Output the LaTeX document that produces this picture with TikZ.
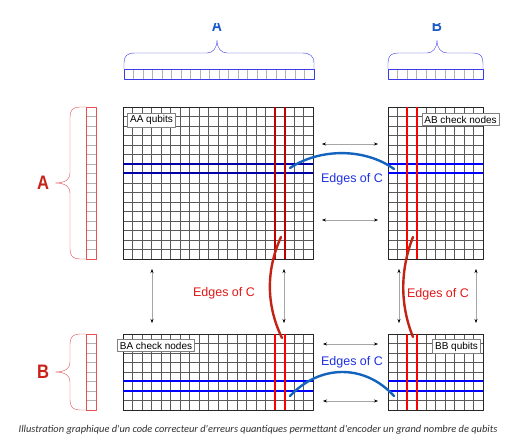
\documentclass[tikz,border=0pt]{standalone}
\usepackage{fontspec}
\setmainfont{Liberation Sans}
\newfontfamily\capfont{Carlito}
\usepackage{xcolor}
\usepackage{tikz}
\usetikzlibrary{arrows.meta}

\definecolor{edgeblue}{RGB}{20,100,190}
\definecolor{edgered}{RGB}{195,35,20}
\definecolor{txtblue}{RGB}{30,50,225}
\definecolor{txtred}{RGB}{225,25,25}
\definecolor{lblblue}{RGB}{25,90,200}
\definecolor{lblred}{RGB}{200,35,25}
\definecolor{braceblue}{RGB}{60,60,230}
\definecolor{bracered}{RGB}{230,80,85}
\definecolor{capgray}{RGB}{50,50,50}

\tikzset{
  gridline/.style={gray!70!black,line width=0.5pt},
  gridbox/.style={black!85,line width=0.9pt},
  barline/.style={gray!60,line width=0.5pt},
  rowline/.style={line width=2pt},
  edgeline/.style={line width=2.4pt,line cap=round},
  tag/.style={draw=gray,fill=white,font=\fontsize{10}{12}\selectfont,inner sep=2.5pt},
  twoway/.style={gray!70,line width=0.5pt,
    {Stealth[color=black,length=4pt,width=3pt]}-{Stealth[color=black,length=4pt,width=3pt]}},
  edgelbl/.style={font=\fontsize{12.5}{14}\selectfont},
  bigletter/.style={anchor=base,inner sep=0pt,font=\bfseries\fontsize{19.5}{20}\selectfont}
}

\newcommand{\cellgrid}[4]{%
  \foreach \k in {1,...,#3}{\draw[gridline] ({#1+9.5*\k},#2) -- ++(0,{9.5*#4});}
  \foreach \k in {1,...,#4}{\draw[gridline] (#1,{#2+9.5*\k}) -- ++({9.5*#3},0);}
  \draw[gridbox] (#1,#2) rectangle ++({9.5*#3},{9.5*#4});
}
\newcommand{\topbar}[2]{%
  \foreach \k in {1,...,#2}{\draw[barline] ({#1+9.5*\k},69) -- ({#1+9.5*\k},79);}
  \draw[braceblue] (#1,69) rectangle ({#1+9.5*#2},79);
}
\newcommand{\sidebar}[2]{%
  \foreach \k in {1,...,#2}{\draw[barline] (86,{#1+9.5*\k}) -- (96,{#1+9.5*\k});}
  \draw[bracered] (86,#1) rectangle (96,{#1+9.5*#2});
}

\begin{document}
\begin{tikzpicture}[x=1pt,y=-1pt,>=Stealth,line join=round]
  \useasboundingbox (0,0) rectangle (525,446);
  \fill[white] (0,0) rectangle (525,446);

  \cellgrid{123}{107}{20}{16}
  \cellgrid{388}{107}{10}{16}
  \cellgrid{123}{334}{20}{8}
  \cellgrid{388}{334}{10}{8}

  \topbar{124}{20}
  \topbar{388}{10}
  \sidebar{107}{16}
  \sidebar{334}{8}

  \draw[braceblue] (124,69) -- (124,63) .. controls (124,56) and (127,53) .. (135,53) -- (207,53)
    .. controls (213,53) and (217,48) .. (217,40) .. controls (217,48) and (221,53) .. (227,53)
    -- (302,53) .. controls (310,53) and (314,56) .. (314,63) -- (314,69);
  \draw[braceblue] (388,69) -- (388,63) .. controls (388,56) and (391,53) .. (398,53) -- (427,53)
    .. controls (433,53) and (437,48) .. (437,40) .. controls (437,48) and (441,53) .. (447,53)
    -- (473,53) .. controls (480,53) and (483,56) .. (483,63) -- (483,69);
  \draw[bracered] (86,107) -- (80,107) .. controls (73,107) and (70,110) .. (70,117) -- (70,173)
    .. controls (70,179) and (66,183) .. (55,183) .. controls (66,183) and (70,187) .. (70,193)
    -- (70,249) .. controls (70,256) and (73,259) .. (80,259) -- (86,259);
  \draw[bracered] (86,334) -- (80,334) .. controls (73,334) and (70,337) .. (70,344) -- (70,362)
    .. controls (70,368) and (66,372) .. (55,372) .. controls (66,372) and (70,376) .. (70,382)
    -- (70,400) .. controls (70,407) and (73,410) .. (80,410) -- (86,410);

  \begin{scope}
    \clip (150,24) rectangle (500,45);
    \node[bigletter,text=lblblue,font=\bfseries\fontsize{16.5}{17}\selectfont] (TA) at (217,31.5) {\scalebox{0.85}[1]{A}};
    \node[bigletter,text=lblblue,font=\bfseries\fontsize{16.5}{17}\selectfont] (TB) at (437,31.5) {\scalebox{0.85}[1]{B}};
  \end{scope}
  \node[bigletter,text=lblred] (LA) at (43,190) {\scalebox{0.85}[1]{A}};
  \node[bigletter,text=lblred] (LB) at (43,379) {\scalebox{0.85}[1]{B}};

  \foreach \y in {164,173.5}{
    \draw[rowline,blue!65!black] (123,\y) -- (313,\y);
    \draw[rowline,blue] (388,\y) -- (483,\y);
  }
  \foreach \y in {381.5,391}{
    \draw[rowline,blue] (123,\y) -- (313,\y);
    \draw[rowline,blue] (388,\y) -- (483,\y);
  }
  \foreach \x in {275,284.5}{
    \draw[rowline,red!75!black] (\x,107) -- (\x,259);
    \draw[rowline,red] (\x,334) -- (\x,410);
  }
  \foreach \x in {407,416.5}{
    \draw[rowline,red] (\x,107) -- (\x,259);
    \draw[rowline,red] (\x,334) -- (\x,410);
  }

  \node[tag] (AAq) at (151.5,120) {AA qubits};
  \node[tag] (ABc) at (460.5,119.5) {AB check nodes};
  \node[tag] (BAc) at (156,345.5) {BA check nodes};
  \node[tag] (BBq) at (456.5,346.5) {BB qubits};

  \coordinate (BU0) at (290,168);
  \coordinate (BU1) at (394,169);
  \coordinate (BD0) at (290,396);
  \coordinate (BD1) at (394,396);
  \coordinate (RL0) at (281,237);
  \coordinate (RL1) at (282,338);
  \coordinate (RR0) at (413,237);
  \coordinate (RR1) at (413,337);
  \draw[edgeline,edgeblue] (BU0) .. controls (320,148) and (365,148) .. (BU1);
  \draw[edgeline,edgeblue] (BD0) .. controls (320,364) and (365,364) .. (BD1);
  \draw[edgeline,edgered] (RL0) .. controls (266,270) and (266,305) .. (RL1);
  \draw[edgeline,edgered] (RR0) .. controls (400,270) and (400,305) .. (RR1);

  \node[edgelbl,text=txtblue] (EU) at (352,179) {Edges of C};
  \node[edgelbl,text=txtblue] (ED) at (352,362) {Edges of C};
  \node[edgelbl,text=txtred] (EL) at (224,293) {Edges of C};
  \node[edgelbl,text=txtred] (ER) at (438,294) {Edges of C};

  \coordinate (H0a) at (322,144);  \coordinate (H0b) at (378,144);
  \coordinate (H1a) at (322,220);  \coordinate (H1b) at (378,220);
  \coordinate (H2a) at (323,344);  \coordinate (H2b) at (378,344);
  \coordinate (H3a) at (323,401);  \coordinate (H3b) at (378,401);
  \draw[twoway] (H0a) -- (H0b);
  \draw[twoway] (H1a) -- (H1b);
  \draw[twoway] (H2a) -- (H2b);
  \draw[twoway] (H3a) -- (H3b);
  \foreach \x [count=\n] in {152,284,399,476}{
    \coordinate (V\n a) at (\x,269);
    \coordinate (V\n b) at (\x,323);
    \draw[twoway] (V\n a) -- (V\n b);
  }

  \node[font=\capfont\itshape\fontsize{10.4}{12}\selectfont,text=capgray] (CAP) at (258,430)
    {Illustration graphique d'un code correcteur d'erreurs quantiques permettant d'encoder un grand nombre de qubits};
\end{tikzpicture}
\end{document}
